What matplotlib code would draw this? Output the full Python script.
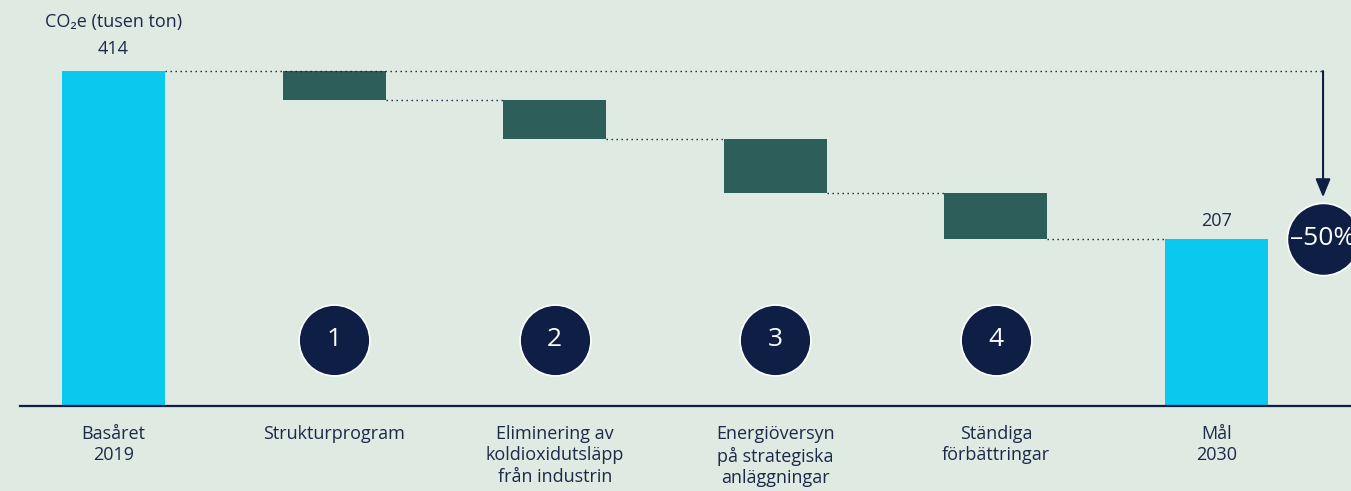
import matplotlib.pyplot as plt

# data (tusen ton CO2e)
categories = ["Basåret\n2019", "Strukturprogram", "Eliminering av\nkoldioxidutsläpp\nfrån industrin",
              "Energiöversyn\npå strategiska\nanläggningar", "Ständiga\nförbättringar", "Mål\n2030"]
base_value = 414
target_value = 207
reductions = [36, 48, 67, 56]
step_numbers = ["1", "2", "3", "4"]
reduction_label = "–50%"

BG = "#dfeae2"
CYAN = "#0bc8ef"
GREEN = "#2d5e5a"
NAVY = "#0e1e45"
TEXT = "#1b2a48"

plt.rcParams['font.family'] = ['Open Sans', 'DejaVu Sans']

fig = plt.figure(figsize=(13.51, 4.91), dpi=100, facecolor=BG)
ax = fig.add_axes([0, 0, 1, 1], facecolor=BG)

spacing = 220.6
ax.set_xlim(-113.5 / spacing, (1351 - 113.5) / spacing)
ypx = 0.809
ax.set_ylim(-85 / ypx, (491 - 85) / ypx)
ax.axis('off')

w = 0.467
# start and end bars
ax.bar(0, base_value, width=w, color=CYAN)
ax.bar(5, target_value, width=w, color=CYAN)

# reduction steps
level = base_value
for i, r in enumerate(reductions):
    x = i + 1
    ax.bar(x, r, bottom=level - r, width=w, color=GREEN)
    new_level = level - r
    # connector from bar bottom to next bar
    ax.plot([x + w / 2, x + 1 - w / 2], [new_level, new_level], color=NAVY,
            lw=1, linestyle=(0, (1, 2.6)))
    level = new_level

# top dotted reference line
arrow_x = 5.483
ax.plot([w / 2, arrow_x], [base_value, base_value], color=NAVY,
        lw=1, linestyle=(0, (1, 2.6)))

# arrow down to -50%
ax.annotate("", xy=(arrow_x, 258), xytext=(arrow_x, base_value),
            arrowprops=dict(arrowstyle="-|>,head_length=1.1,head_width=0.45",
                            color=NAVY, lw=1.5, shrinkA=0, shrinkB=0))
ax.plot(arrow_x, target_value, marker='o', markersize=52, color=NAVY,
        mec='white', mew=1.2, clip_on=False)
ax.text(arrow_x, target_value, reduction_label, color='white', fontsize=19,
        ha='center', va='center')

# numbered circles
for i, n in enumerate(step_numbers):
    ax.plot(i + 1, 81.6, marker='o', markersize=51, color=NAVY, mec='white', mew=1.2)
    ax.text(i + 1, 81.6, n, color='white', fontsize=19, ha='center', va='center')

# baseline
ax.plot([-94 / spacing, 6], [0, 0], color=NAVY, lw=1.6, clip_on=False)

# value labels
ax.text(0, base_value + 16, str(base_value), ha='center', va='bottom', fontsize=13, color=TEXT)
ax.text(0, base_value + 49, "CO₂e (tusen ton)", ha='center', va='bottom', fontsize=13, color=TEXT)
ax.text(5, target_value + 11, str(target_value), ha='center', va='bottom', fontsize=13, color=TEXT)

# category labels
for i, c in enumerate(categories):
    ax.text(i, -24, c, ha='center', va='top', fontsize=13, color=TEXT, linespacing=1.22)

fig.savefig("out.png", dpi=100, facecolor=BG)
